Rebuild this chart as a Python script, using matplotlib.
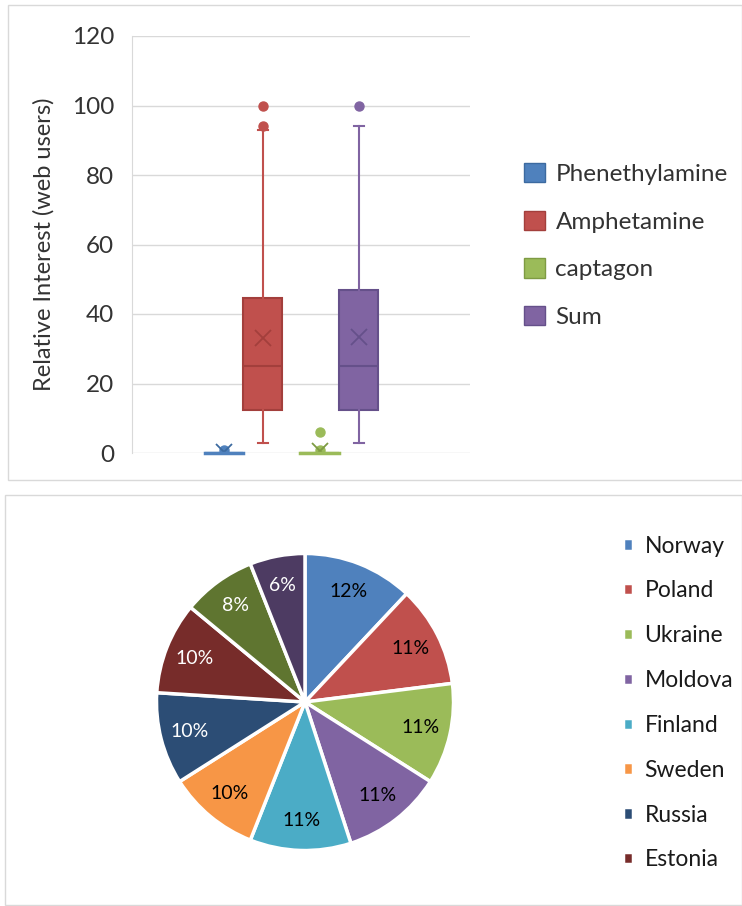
import numpy as np
import matplotlib
matplotlib.use("Agg")
import matplotlib.pyplot as plt
from matplotlib.patches import Rectangle, Patch

plt.rcParams['font.family'] = ['Lato', 'DejaVu Sans']

# box plot data: relative interest of web users per search term
series = ['Phenethylamine', 'Amphetamine', 'captagon', 'Sum']
q1 = [0, 12.5, 0, 12.5]
median = [0, 25, 0, 25]
q3 = [0, 44.5, 0, 47]
whis_lo = [0, 3, 0, 3]
whis_hi = [0, 93, 0, 94]
means = [0.4, 33, 0.5, 33.5]
outliers = [[1.0], [94, 100], [1.0, 6], [100]]
box_colors = ['#4F81BD', '#C0504D', '#9BBB59', '#8064A2']
edge_colors = ['#3C6AA0', '#A33F3C', '#7E9B43', '#65508A']
yticks = [0, 20, 40, 60, 80, 100, 120]

# pie data: share by country
countries = ['Norway', 'Poland', 'Ukraine', 'Moldova', 'Finland', 'Sweden',
             'Russia', 'Estonia', '', '']
shares = [12, 11, 11, 11, 11, 10, 10, 10, 8, 6]
pie_colors = ['#4F81BD', '#C0504D', '#9BBB59', '#8064A2', '#4BACC6', '#F79646',
              '#2C4D75', '#772C2A', '#5F7530', '#4D3B62']
label_colors = ['black'] * 6 + ['white'] * 4

W, H = 742, 906
fig = plt.figure(figsize=(W / 100, H / 100), dpi=100)


def px_axes(x0, y0, x1, y1):
    # axes from pixel box (top-left origin)
    return fig.add_axes([x0 / W, 1 - y1 / H, (x1 - x0) / W, (y1 - y0) / H])


# panel frames
fig.patches.append(Rectangle((8 / W, 1 - 480 / H), (W - 8) / W, 475 / H,
                             transform=fig.transFigure, fill=False,
                             edgecolor='#D9D9D9', lw=1))
fig.patches.append(Rectangle((5 / W, 1 - 905 / H), (W - 5) / W, 410 / H,
                             transform=fig.transFigure, fill=False,
                             edgecolor='#D9D9D9', lw=1))

# ---- box plot ----
ax = px_axes(132, 36, 470, 453)
positions = [2.36, 3.36, 4.82, 5.82]
stats = []
for i, name in enumerate(series):
    stats.append(dict(label=name, q1=q1[i], med=median[i], q3=q3[i],
                      whislo=whis_lo[i], whishi=whis_hi[i], mean=means[i],
                      fliers=outliers[i]))

for i, st in enumerate(stats):
    c, ec = box_colors[i], edge_colors[i]
    ax.bxp([st], positions=[positions[i]], widths=1.0, patch_artist=True,
           showmeans=True, showfliers=True,
           boxprops=dict(facecolor=c, edgecolor=ec, lw=1.5),
           medianprops=dict(color=ec, lw=1.5),
           whiskerprops=dict(color=c, lw=1.5),
           capprops=dict(color=c, lw=1.5),
           capwidths=0.25,
           meanprops=dict(marker='x', markeredgecolor=ec, markersize=11,
                          markeredgewidth=1.3),
           flierprops=dict(marker='o', markerfacecolor=c, markeredgecolor=c,
                           markersize=6.5))
    if q3[i] == q1[i]:
        ax.plot([positions[i] - 0.5, positions[i] + 0.5], [q1[i], q1[i]],
                color=c, lw=2.5, zorder=3, clip_on=False)

ax.set_xlim(0, 8.67)
ax.set_ylim(0, 120)
ax.set_yticks(yticks)
ax.set_xticks([])
ax.grid(axis='y', color='#D9D9D9', lw=1)
ax.set_axisbelow(True)
for s in ['top', 'right', 'bottom']:
    ax.spines[s].set_visible(False)
ax.spines['left'].set_color('#D9D9D9')
ax.tick_params(axis='y', length=0, labelsize=17.5, pad=13, colors='#333333')
ax.set_ylabel('Relative Interest (web users)', fontsize=17, color='#333333',
              labelpad=12)

handles = [Patch(facecolor=box_colors[i], edgecolor=edge_colors[i])
           for i in range(len(series))]
fig.legend(handles, series, loc='upper left',
           bbox_to_anchor=(502 / W, 1 - 141 / H), frameon=False,
           fontsize=17.5, handlelength=0.85, handleheight=0.85,
           labelspacing=1.05, handletextpad=0.45, labelcolor='#333333')

# ---- pie chart ----
pax = px_axes(155, 552, 455, 852)
wedges, texts, autotexts = pax.pie(
    shares, colors=pie_colors, startangle=90, counterclock=False,
    autopct=lambda p: '%d%%' % round(p), pctdistance=0.8,
    wedgeprops=dict(edgecolor='white', linewidth=2.5),
    textprops=dict(fontsize=14))
for t, col in zip(autotexts, label_colors):
    t.set_color(col)
pax.set_xlim(-1.01, 1.01)
pax.set_ylim(-1.01, 1.01)

fig.legend(wedges[:8], countries[:8], loc='upper left',
           bbox_to_anchor=(602 / W, 1 - 515 / H), frameon=False,
           fontsize=16.5, handlelength=0.45, handleheight=0.45,
           labelspacing=1.04, handletextpad=0.5, labelcolor='#1a1a1a')

fig.savefig('out.png', dpi=100)
